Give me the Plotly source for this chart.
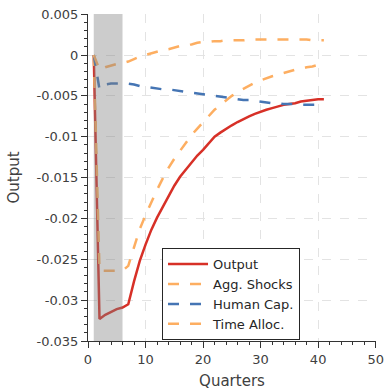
import plotly.graph_objects as go

quarters = list(range(1, 42))

output = [0.0, -0.0323, -0.0318, -0.0314, -0.0311, -0.0309, -0.0305, -0.0277, -0.0252, -0.0232,
          -0.0214, -0.0199, -0.0186, -0.0172, -0.0160, -0.0149, -0.0140, -0.0131, -0.0123, -0.0116,
          -0.0108, -0.0100, -0.0095, -0.0090, -0.0086, -0.0082, -0.0078, -0.0075, -0.0072, -0.0069,
          -0.0067, -0.0065, -0.0063, -0.0061, -0.0060, -0.0059, -0.0057, -0.0056, -0.0055, -0.0054,
          -0.0054]

agg_shocks = [0.0, -0.0264, -0.0264, -0.0264, -0.0264, -0.0264, -0.0258, -0.0234, -0.0213, -0.0196,
              -0.0180, -0.0165, -0.0151, -0.0138, -0.0127, -0.0117, -0.0107, -0.0098, -0.0090, -0.0082,
              -0.0074, -0.0067, -0.0061, -0.0055, -0.0050, -0.0045, -0.0041, -0.0037, -0.0034, -0.0031,
              -0.0028, -0.0026, -0.0024, -0.0022, -0.0020, -0.0018, -0.0017, -0.0015, -0.0014, -0.0012,
              -0.0011]

human_cap = [0.0, -0.0042, -0.0036, -0.0035, -0.0035, -0.0035, -0.0035, -0.0036, -0.0038, -0.0039,
             -0.0040, -0.0041, -0.0042, -0.0042, -0.0043, -0.0044, -0.0045, -0.0046, -0.0047, -0.0048,
             -0.0049, -0.0050, -0.0051, -0.0052, -0.0053, -0.0054, -0.0055, -0.0055, -0.0056, -0.0057,
             -0.0058, -0.0059, -0.0059, -0.0060, -0.0060, -0.0060, -0.0061, -0.0061, -0.0061, -0.0061,
             -0.0062]

time_alloc = [0.0, -0.0018, -0.0015, -0.0013, -0.0011, -0.0010, -0.0008, -0.0005, -0.0002, 0.0000,
              0.0002, 0.0004, 0.0006, 0.0007, 0.0009, 0.0011, 0.0012, 0.0013, 0.0015, 0.0016,
              0.0016, 0.0017, 0.0017, 0.0018, 0.0018, 0.0018, 0.0018, 0.0019, 0.0019, 0.0019,
              0.0019, 0.0019, 0.0019, 0.0019, 0.0019, 0.0019, 0.0019, 0.0019, 0.0018, 0.0018,
              0.0018]

shade_start, shade_end = 1, 6

y_tickvals = [0.005, 0.0, -0.005, -0.01, -0.015, -0.02, -0.025, -0.03, -0.035]
y_ticktext = ["0.005", "0", "-0.005", "-0.01", "-0.015", "-0.02", "-0.025", "-0.03", "-0.035"]
x_tickvals = [0, 10, 20, 30, 40, 50]

RED = "#d73027"
ORANGE = "#fdae61"
BLUE = "#4575b4"
FONT = "DejaVu Sans"
TXT = "#404040"

fig = go.Figure()
fig.add_trace(go.Scatter(x=quarters, y=output, name="Output", mode="lines",
                         line=dict(color=RED, width=2.5)))
fig.add_trace(go.Scatter(x=quarters, y=agg_shocks, name="Agg. Shocks", mode="lines",
                         line=dict(color=ORANGE, width=2.5, dash="11px,11px")))
fig.add_trace(go.Scatter(x=quarters, y=human_cap, name="Human Cap.", mode="lines",
                         line=dict(color=BLUE, width=2.5, dash="11px,11px")))
fig.add_trace(go.Scatter(x=quarters, y=time_alloc, name="Time Alloc.", mode="lines",
                         line=dict(color=ORANGE, width=2.5, dash="11px,11px")))

fig.add_shape(type="rect", xref="x", yref="paper", x0=shade_start, x1=shade_end, y0=0, y1=1,
              fillcolor="rgba(128,128,128,0.4)", line=dict(width=0), layer="above")

axis_common = dict(showline=True, linecolor="#333333", linewidth=1, ticks="outside",
                   tickcolor="#333333", ticklen=6, tickwidth=1,
                   showgrid=True, gridcolor="#e3e3e3", griddash="dash", gridwidth=1,
                   zeroline=False, tickfont=dict(family=FONT, size=13, color=TXT),
                   mirror=False, automargin=False, ticklabeloverflow="allow")

fig.update_xaxes(range=[0, 50.06], tickvals=x_tickvals,
                 minor=dict(dtick=2, ticks="outside", ticklen=3, tickcolor="#333333", showgrid=False),
                 title=dict(text="Quarters", font=dict(family=FONT, size=15, color=TXT), standoff=12),
                 **axis_common)
fig.update_yaxes(range=[-0.035, 0.00502], tickvals=y_tickvals, ticktext=y_ticktext,
                 minor=dict(dtick=0.001, tick0=0, ticks="outside", ticklen=3, tickcolor="#333333", showgrid=False),
                 title=dict(text="Output", font=dict(family=FONT, size=15, color=TXT), standoff=13),
                 **axis_common)

fig.update_layout(
    width=385, height=390,
    margin=dict(l=88, r=9, t=14, b=49, autoexpand=False),
    plot_bgcolor="white", paper_bgcolor="white",
    font=dict(family=FONT, size=13, color=TXT),
    legend=dict(x=0.257, y=0.284, xanchor="left", yanchor="top",
                bgcolor="white", bordercolor="#262626", borderwidth=1,
                font=dict(family=FONT, size=13, color="#262626"),
                tracegroupgap=0, itemwidth=40),
    showlegend=True,
)

fig.write_html(
    "out.html",
    config={"displayModeBar": False},
    post_script="document.body.style.margin='0';document.body.style.overflow='hidden';",
)
